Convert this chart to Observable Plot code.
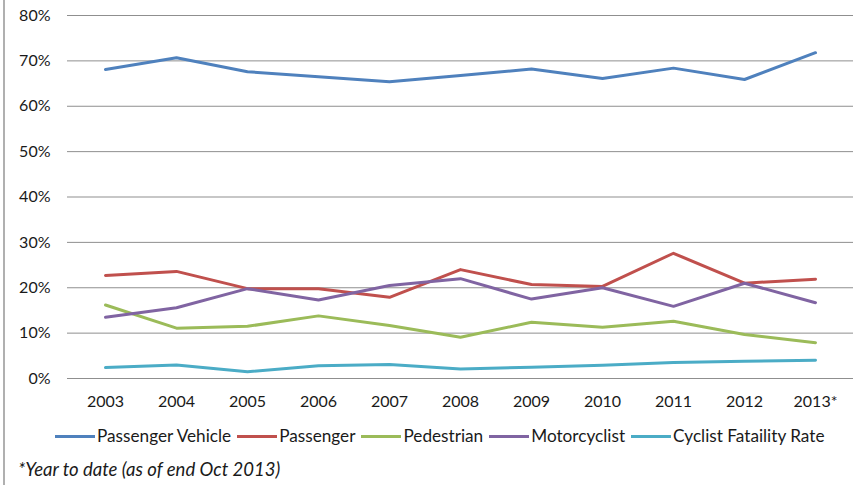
<!DOCTYPE html>
<html>
<head>
<meta charset="utf-8">
<script src="https://cdn.jsdelivr.net/npm/d3@7"></script>
<script src="https://cdn.jsdelivr.net/npm/@observablehq/plot@0.6"></script>
<style>
  html, body { margin: 0; padding: 0; background: #fff; }
  body { width: 863px; height: 485px; overflow: hidden; position: relative; font-family: Lato, "Open Sans", sans-serif; color: #1a1a1a; }
  #edge { position: absolute; left: 3px; top: 0; width: 2px; height: 485px; background: #b0b0b0; }
  #chart svg { display: block; }
  #legend { display: flex; align-items: center; margin-top: 7px; padding-left: 55px; font-size: 17.2px; line-height: 22px; height: 22px; }
  .item { display: flex; align-items: center; margin-right: 6px; }
  .sw { width: 40px; height: 3px; margin-right: 2px; }
  #note { margin-top: 11px; padding-left: 18px; font-size: 18.5px; font-style: italic; line-height: 22px; }
</style>
</head>
<body>
<div id="edge"></div>
<div id="chart"></div>
<div id="legend"></div>
<div id="note">*Year to date (as of end Oct 2013)</div>
<script>
const years = ["2003","2004","2005","2006","2007","2008","2009","2010","2011","2012","2013*"];
const seriesNames = ["Passenger Vehicle","Passenger","Pedestrian","Motorcyclist","Cyclist Fataility Rate"];
const passengerVehicle = [68.1,70.7,67.6,66.5,65.4,66.8,68.2,66.1,68.4,65.9,71.8];
const passenger = [22.7,23.6,19.8,19.8,17.9,24.0,20.7,20.3,27.6,21.0,21.9];
const pedestrian = [16.2,11.1,11.5,13.8,11.7,9.1,12.4,11.3,12.6,9.7,7.9];
const motorcyclist = [13.5,15.6,19.8,17.3,20.5,22.0,17.5,20.0,15.9,21.0,16.7];
const cyclist = [2.4,3.0,1.5,2.8,3.1,2.1,2.5,2.9,3.5,3.8,4.0];
const yTicks = [0,10,20,30,40,50,60,70,80];
const colors = ["#4F81BD","#C0504D","#9BBB59","#8064A2","#4BACC6"];

const allSeries = [passengerVehicle, passenger, pedestrian, motorcyclist, cyclist];
const rows = [];
allSeries.forEach((vals, i) => vals.forEach((v, j) => rows.push({series: seriesNames[i], year: years[j], value: v})));

const chart = Plot.plot({
  width: 863,
  height: 418,
  marginTop: 15,
  marginBottom: 40,
  marginLeft: 67,
  marginRight: 10,
  style: { fontFamily: "Lato, 'Open Sans', sans-serif", fontSize: "16px", color: "#1a1a1a", background: "#fff" },
  x: { type: "point", domain: years, padding: 0.5, label: null },
  y: { domain: [0, 80], label: null },
  color: { domain: seriesNames, range: colors },
  marks: [
    Plot.ruleY(yTicks, { stroke: "#8f8f8f", strokeWidth: 1, strokeOpacity: 1 }),
    Plot.axisY({ ticks: yTicks, tickFormat: d => d + "%", tickSize: 0, tickPadding: 17, fontSize: 16 }),
    Plot.axisX({ tickSize: 0, tickPadding: 17, fontSize: 16 }),
    Plot.line(rows, { x: "year", y: "value", z: "series", stroke: "series", strokeWidth: 3, strokeLinejoin: "round", strokeLinecap: "round" })
  ]
});
document.getElementById("chart").appendChild(chart);

const legend = document.getElementById("legend");
seriesNames.forEach((name, i) => {
  const it = document.createElement("div");
  it.className = "item";
  const sw = document.createElement("div");
  sw.className = "sw";
  sw.style.background = colors[i];
  const t = document.createElement("span");
  t.textContent = name;
  it.appendChild(sw);
  it.appendChild(t);
  legend.appendChild(it);
});
</script>
</body>
</html>
